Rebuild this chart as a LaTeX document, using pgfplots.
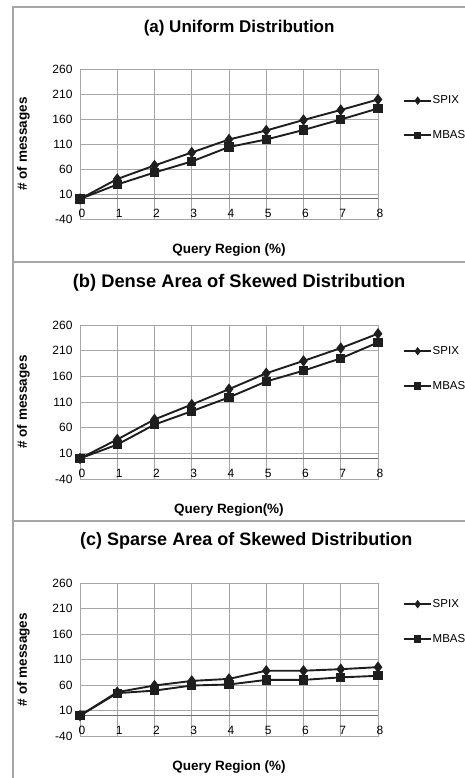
\documentclass[border=0pt]{standalone}
\usepackage{fontspec}
\setmainfont{Liberation Sans}
\usepackage{pgfplots}
\pgfplotsset{compat=1.18}
\definecolor{gridgray}{HTML}{A6A6A6}
\definecolor{linecol}{HTML}{1E1E1E}
\pgfplotsset{
  panel/.style={
    width=298pt, scale only axis,
    xmin=0, xmax=8, ymin=-40, ymax=260,
    xtick={0,...,8}, ytick={-40,10,...,260},
    grid=major,
    major grid style={draw=gridgray, line width=0.8pt},
    axis line style={draw=gridgray, line width=0.8pt},
    major tick length=0pt,
    /pgf/number format/assume math mode=true,
    ticklabel style={font=\fontsize{12}{14}\selectfont},
    xticklabel style={anchor=south, xshift=2pt, yshift=-2pt},
    yticklabel style={xshift=-4pt},
    extra y ticks={0},
    extra y tick labels={},
    extra y tick style={major grid style={draw=gray!85!black, line width=1pt}},
    label style={font=\bfseries\fontsize{13.5}{16}\selectfont},
    ylabel style={at={(axis description cs:-0.19,0.5)}, anchor=center},
    every axis title shift=0pt,
    title style={anchor=center},
    ylabel={\# of messages},
    legend style={draw=none, fill=none, anchor=west, inner sep=0pt,
      font=\fontsize{11.5}{13}\selectfont, row sep=24pt,
      nodes={inner sep=0.6pt}},
    legend cell align=left,
    legend image code/.code={\draw[##1, mark size=2.7pt, mark repeat=2, mark phase=2] plot coordinates {(0pt,0pt) (13.5pt,0pt) (27pt,0pt)};},
  },
  spix/.style={color=linecol, line width=1.9pt, mark=diamond*, mark size=4.2pt},
  mbas/.style={color=linecol, line width=1.9pt, mark=square*, mark size=3.7pt},
}
\begin{document}
\begin{tikzpicture}
\useasboundingbox (0,0) rectangle (465pt,778pt);
% panel frames
\draw[gridgray, line width=1.2pt] (13pt,0pt) -- (13pt,771pt) -- (466pt,771pt);
\draw[gridgray, line width=1.2pt] (13pt,516pt) -- (466pt,516pt);
\draw[gridgray, line width=1.2pt] (13pt,257pt) -- (466pt,257pt);

% (a)
\begin{axis}[panel, at={(80pt,709pt)}, anchor=north west, height=150pt,
  title={(a) Uniform Distribution},
  title style={at={(axis description cs:0.534,1.275)}, font=\bfseries\fontsize{17}{20}\selectfont},
  xlabel={Query Region (\%)},
  xlabel style={at={(axis description cs:0.5,-0.21)}, anchor=center},
  legend style={at={(axis description cs:1.084,0.673)}}]
\addplot[spix] coordinates {(0,0) (1,40) (2,67) (3,93) (4,119) (5,137) (6,158) (7,178) (8,199)};
\addlegendentry{SPIX}
\addplot[mbas] coordinates {(0,0) (1,29) (2,53) (3,75) (4,104) (5,119) (6,138) (7,159) (8,181)};
\addlegendentry{MBAS}
\end{axis}

% (b)
\begin{axis}[panel, at={(80pt,453pt)}, anchor=north west, height=154pt,
  title={(b) Dense Area of Skewed Distribution},
  title style={at={(axis description cs:0.534,1.273)}, font=\bfseries\fontsize{18.3}{21}\selectfont},
  xlabel={Query Region(\%)},
  xlabel style={at={(axis description cs:0.5,-0.2)}, anchor=center},
  legend style={at={(axis description cs:1.084,0.717)}}]
\addplot[spix] coordinates {(0,0) (1,37) (2,76) (3,105) (4,135) (5,166) (6,190) (7,215) (8,243)};
\addlegendentry{SPIX}
\addplot[mbas] coordinates {(0,0) (1,27) (2,66) (3,92) (4,119) (5,150) (6,171) (7,195) (8,226)};
\addlegendentry{MBAS}
\end{axis}

% (c)
\begin{axis}[panel, at={(80pt,195pt)}, anchor=north west, height=153pt,
  title={(c) Sparse Area of Skewed Distribution},
  title style={at={(axis description cs:0.558,1.275)}, font=\bfseries\fontsize{18}{21}\selectfont},
  xlabel={Query Region (\%)},
  xlabel style={at={(axis description cs:0.5,-0.2)}, anchor=center},
  legend style={at={(axis description cs:1.084,0.748)}}]
\addplot[spix] coordinates {(0,0) (1,46) (2,59) (3,68) (4,72) (5,88) (6,88) (7,91) (8,95)};
\addlegendentry{SPIX}
\addplot[mbas] coordinates {(0,0) (1,44) (2,49) (3,59) (4,61) (5,70) (6,70) (7,75) (8,78)};
\addlegendentry{MBAS}
\end{axis}
\end{tikzpicture}
\end{document}
